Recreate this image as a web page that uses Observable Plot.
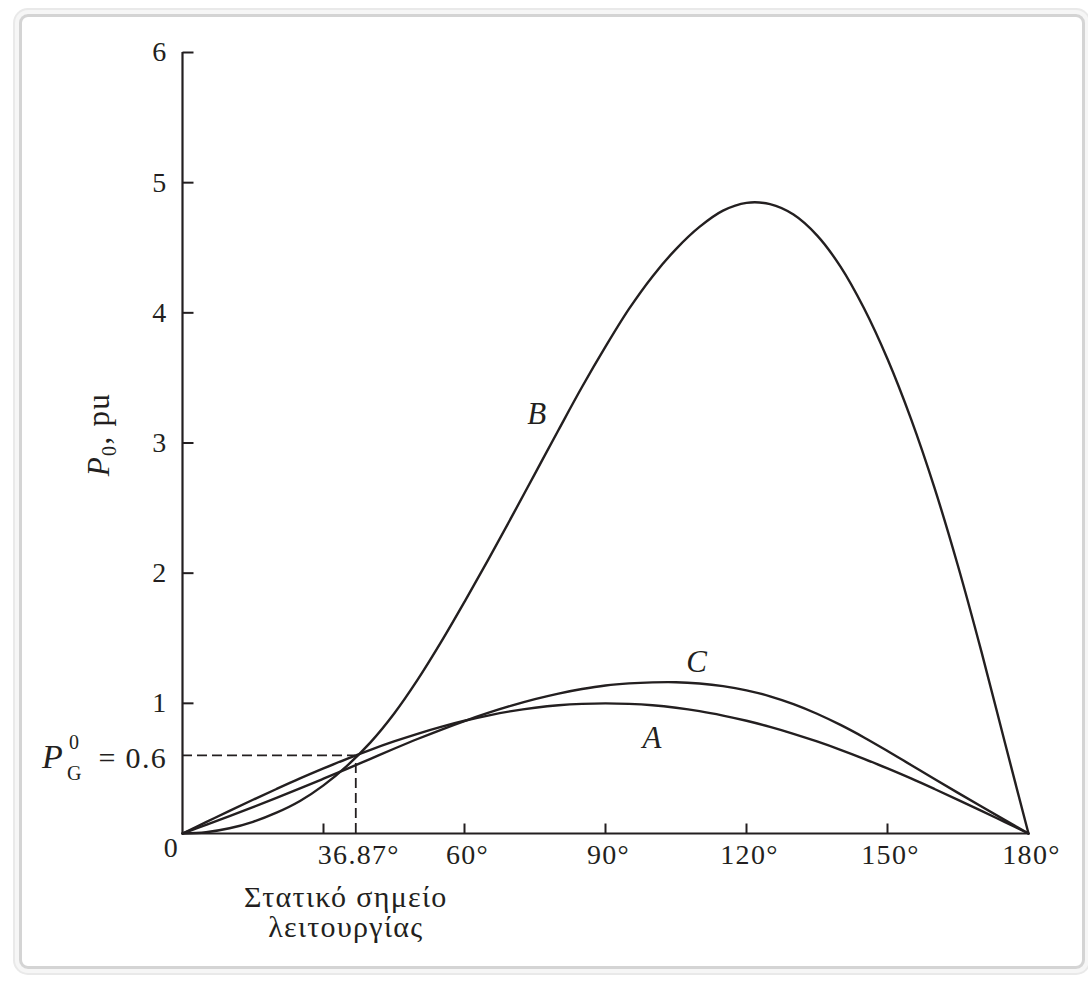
<!DOCTYPE html>
<html>
<head>
<meta charset="utf-8">
<script src="https://cdn.jsdelivr.net/npm/d3@7"></script>
<script src="https://cdn.jsdelivr.net/npm/@observablehq/plot@0.6"></script>
<style>
html, body { margin: 0; padding: 0; background: #fff; width: 1088px; height: 982px; overflow: hidden; }
#frame { position: absolute; left: 19px; top: 14px; width: 1066px; height: 955px; box-sizing: border-box;
  border: 3px solid #d4d4d4; border-radius: 9px;
  box-shadow: 0 0 0 4px #f6f6f6, 0 0 0 6px #e9e9e9; }
#chart { position: absolute; left: 0; top: 0; }
#chart svg text { letter-spacing: 1.3px; }
</style>
</head>
<body>
<div id="frame"></div>
<div id="chart"></div>
<script>
// Load angle δ in degrees
const angles = [0,5,10,15,20,25,30,35,40,45,50,55,60,65,70,75,80,85,90,95,100,105,110,115,120,125,130,135,140,145,150,155,160,165,170,175,180];
// Curve A
const powerA = [0,0.087,0.174,0.259,0.342,0.423,0.500,0.574,0.643,0.707,0.766,0.819,0.866,0.906,0.940,0.966,0.985,0.996,1.000,0.996,0.985,0.966,0.940,0.906,0.866,0.819,0.766,0.707,0.643,0.574,0.500,0.423,0.342,0.259,0.174,0.087,0];
// Curve B
const powerB = [0,0.01,0.04,0.09,0.16,0.25,0.37,0.52,0.70,0.92,1.18,1.47,1.78,2.10,2.43,2.765,3.10,3.43,3.74,4.03,4.28,4.49,4.66,4.785,4.845,4.835,4.755,4.595,4.355,4.035,3.645,3.185,2.655,2.055,1.395,0.695,0];
// Curve C
const powerC = [0,0.066,0.133,0.202,0.273,0.346,0.421,0.497,0.574,0.651,0.726,0.797,0.864,0.926,0.982,1.032,1.075,1.110,1.137,1.153,1.161,1.162,1.152,1.132,1.100,1.054,0.994,0.920,0.834,0.738,0.634,0.526,0.418,0.312,0.207,0.103,0];

const xTickMarks = [30,60,90,120,150];
const xLabelValues = [36.87,60,90,120,150,180];
const xTickLabels = ["36.87°","60°","90°","120°","150°","180°"];
const yTicks = [1,2,3,4,5,6];
const operatingAngle = 36.87;
const operatingPower = 0.6;
const bottomNote = "Στατικό σημείο\nλειτουργίας";

const ink = "#231f20";
const rows = angles.flatMap((a, i) => [
  {curve: "A", angle: a, p: powerA[i]},
  {curve: "B", angle: a, p: powerB[i]},
  {curve: "C", angle: a, p: powerC[i]}
]);

const tickUp = {draw(ctx) { ctx.moveTo(0, 0); ctx.lineTo(0, -10); }};
const tickRight = {draw(ctx) { ctx.moveTo(0, 0); ctx.lineTo(11, 0); }};

const plot = Plot.plot({
  width: 1088,
  height: 982,
  marginLeft: 182,
  marginRight: 60,
  marginTop: 52,
  marginBottom: 149,
  x: {domain: [0, 180], axis: null},
  y: {domain: [0, 6], axis: null},
  style: {background: "transparent", fontFamily: "'Liberation Serif', 'Times New Roman', serif", color: ink},
  marks: [
    Plot.ruleY([operatingPower], {x1: () => 0, x2: () => operatingAngle, stroke: ink, strokeWidth: 1.8, strokeDasharray: "10,5"}),
    Plot.ruleX([operatingAngle], {y1: () => 0, y2: () => operatingPower, stroke: ink, strokeWidth: 1.8, strokeDasharray: "10,5"}),
    Plot.line(rows, {x: "angle", y: "p", z: "curve", curve: "catmull-rom", stroke: ink, strokeWidth: 2.4}),
    Plot.ruleY([0], {x1: () => 0, x2: () => 180, stroke: ink, strokeWidth: 2.2}),
    Plot.ruleX([0], {y1: () => 0, y2: () => 6, stroke: ink, strokeWidth: 2.2}),
    Plot.dot(xTickMarks, {x: d => d, y: () => 0, symbol: tickUp, r: 5, fill: "none", stroke: ink, strokeWidth: 2}),
    Plot.dot(yTicks, {x: () => 0, y: d => d, symbol: tickRight, r: 5, fill: "none", stroke: ink, strokeWidth: 2}),
    Plot.text(xTickLabels, {x: (d, i) => xLabelValues[i], y: () => 0, text: d => d, dx: 3, dy: 22, fontSize: 28, fill: ink}),
    Plot.text(yTicks, {x: () => 0, y: d => d, text: d => String(d), dx: -15, textAnchor: "end", fontSize: 28, fill: ink}),
    Plot.text(["0"], {x: () => 0, y: () => 0, text: d => d, dx: -11, dy: 15, fontSize: 28, fill: ink}),
    Plot.text([bottomNote], {x: () => operatingAngle, y: () => 0, text: d => d, dx: -10, dy: 52, lineAnchor: "top", lineHeight: 1.0, fontSize: 30, fill: ink}),
    Plot.text(["A"], {x: () => 100, y: () => 0.73, text: d => d, fontSize: 31, fontStyle: "italic", fill: ink}),
    Plot.text(["B"], {x: () => 75.5, y: () => 3.22, text: d => d, fontSize: 31, fontStyle: "italic", fill: ink}),
    Plot.text(["C"], {x: () => 109.5, y: () => 1.32, text: d => d, fontSize: 31, fontStyle: "italic", fill: ink})
  ]
});
document.getElementById("chart").appendChild(plot);

// Extra labels with sub/superscripts
const svg = d3.select(plot);
const xs = plot.scale("x"), ys = plot.scale("y");
const x0 = xs.apply(0), yp = ys.apply(operatingPower);

const yl = svg.append("text")
  .attr("transform", `translate(${x0 - 73},${ys.apply(3) - 8}) rotate(-90)`)
  .attr("text-anchor", "middle")
  .attr("font-size", 31)
  .attr("fill", ink);
yl.append("tspan").attr("font-style", "italic").text("P");
yl.append("tspan").attr("font-size", 20).attr("dy", 7).text("0");
yl.append("tspan").attr("dy", -7).text(", pu");

svg.append("text").attr("x", x0 - 140).attr("y", yp + 13).attr("text-anchor", "start").attr("font-style", "italic").attr("font-size", 34).attr("fill", ink).text("P");
svg.append("text").attr("x", x0 - 113).attr("y", yp - 6).attr("text-anchor", "start").attr("font-size", 20).attr("fill", ink).text("0");
svg.append("text").attr("x", x0 - 115).attr("y", yp + 25).attr("text-anchor", "start").attr("font-size", 20).attr("fill", ink).text("G");
svg.append("text").attr("x", x0 - 15).attr("y", yp + 13).attr("text-anchor", "end").attr("font-size", 30).attr("fill", ink).text("= 0.6");
</script>
</body>
</html>
